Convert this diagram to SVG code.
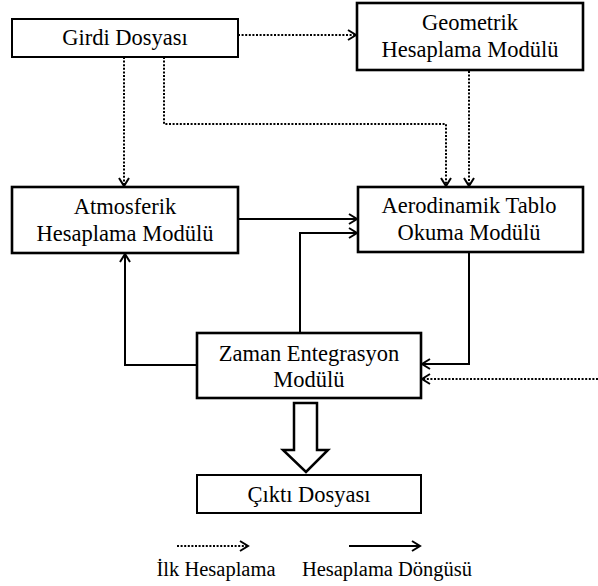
<svg xmlns="http://www.w3.org/2000/svg" width="598" height="586" viewBox="0 0 598 586">
<style>
.box{fill:#fff;stroke:#000;stroke-width:2.6}
.thin{stroke-width:2}
.t{font-family:"Liberation Serif","Times New Roman",serif;font-size:22.5px;fill:#000;text-anchor:middle}
.lg{font-size:20.5px}
.s{fill:none;stroke:#000;stroke-width:2;marker-end:url(#ah)}
.d{fill:none;stroke:#000;stroke-width:2;stroke-dasharray:2 1.6;marker-end:url(#ah)}
</style>
<defs>
<marker id="ah" markerUnits="userSpaceOnUse" markerWidth="12" markerHeight="14" refX="9" refY="6" orient="auto">
<path d="M1,1 L9,6 L1,11" fill="none" stroke="#000" stroke-width="2"/>
</marker>
</defs>
<rect width="598" height="586" fill="#fff"/>
<g id="connectors">
<path class="d" d="M238,35 H356"/>
<path class="d" d="M124,57 V186"/>
<path class="d" d="M164,57 V124 H446 V186"/>
<path class="d" d="M469,71 V186"/>
<path class="s" d="M238,219 H357"/>
<path class="s" d="M300,333 V233 H357"/>
<path class="s" d="M197,365 H125 V254"/>
<path class="s" d="M469,252 V364 H422"/>
<path class="d" d="M598,379 H422"/>
<polygon points="294,403 317,403 317,450 328,450 306,472 283,450 294,450" fill="#fff" stroke="#000" stroke-width="2.5"/>
</g>
<g id="girdi">
<rect class="box thin" x="12" y="19" width="226" height="38"/>
<text class="t" x="125" y="45">Girdi Dosyası</text>
</g>
<g id="geometrik">
<rect class="box" x="357" y="3" width="226" height="67"/>
<text class="t" x="470" y="30">Geometrik</text>
<text class="t" x="470" y="57">Hesaplama Modülü</text>
</g>
<g id="atmosferik">
<rect class="box" x="12" y="187" width="226" height="66"/>
<text class="t" x="125" y="214">Atmosferik</text>
<text class="t" x="125" y="241">Hesaplama Modülü</text>
</g>
<g id="aerodinamik">
<rect class="box" x="358" y="187" width="225" height="65"/>
<text class="t" x="469" y="213">Aerodinamik Tablo</text>
<text class="t" x="469" y="240">Okuma Modülü</text>
</g>
<g id="zaman">
<rect class="box" x="197" y="333" width="224" height="65"/>
<text class="t" x="309" y="361">Zaman Entegrasyon</text>
<text class="t" x="309" y="387">Modülü</text>
</g>
<g id="cikti">
<rect class="box thin" x="197" y="475" width="224" height="38"/>
<text class="t" x="309" y="502">Çıktı Dosyası</text>
</g>
<g id="legend">
<path class="d" d="M177,546 H248"/>
<path class="s" d="M349,546 H420"/>
<text class="t lg" x="216" y="576">İlk Hesaplama</text>
<text class="t lg" x="387" y="576">Hesaplama Döngüsü</text>
</g>
</svg>
